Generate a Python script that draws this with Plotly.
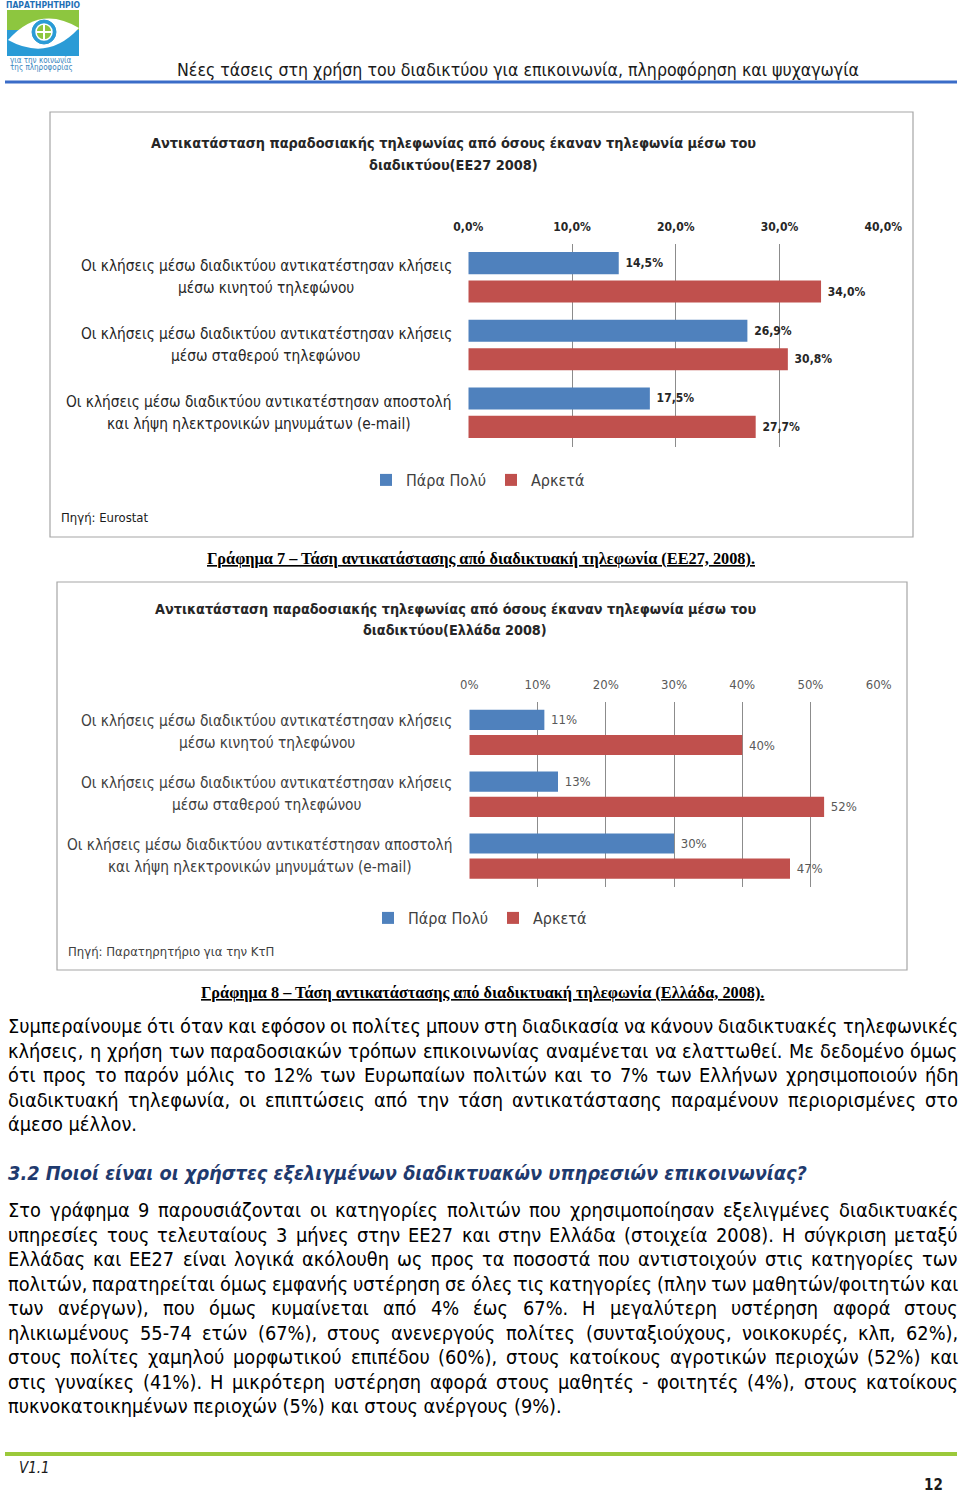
import glob
import plotly.graph_objects as go

W, H = 960, 1494

def px(x):
    return x / W

def py(y):
    return 1 - y / H

# ---------------- data ----------------
categories = [
    "Οι κλήσεις μέσω διαδικτύου αντικατέστησαν κλήσεις<br>μέσω κινητού τηλεφώνου",
    "Οι κλήσεις μέσω διαδικτύου αντικατέστησαν κλήσεις<br>μέσω σταθερού τηλεφώνου",
    "Οι κλήσεις μέσω διαδικτύου αντικατέστησαν αποστολή<br>και λήψη ηλεκτρονικών μηνυμάτων (e-mail)",
]
series_names = ["Πάρα Πολύ", "Αρκετά"]
eu_very = [14.5, 26.9, 17.5]
eu_quite = [34.0, 30.8, 27.7]
gr_very = [11, 13, 30]
gr_quite = [40, 52, 47]

title1 = ["Αντικατάσταση παραδοσιακής τηλεφωνίας από όσους έκαναν τηλεφωνία μέσω του",
          "διαδικτύου(ΕΕ27 2008)"]
title2 = ["Αντικατάσταση παραδοσιακής τηλεφωνίας από όσους έκαναν τηλεφωνία μέσω του",
          "διαδικτύου(Ελλάδα 2008)"]
source1 = "Πηγή: Eurostat"
source2 = "Πηγή: Παρατηρητήριο για την ΚτΠ"
caption1 = "Γράφημα 7 – Τάση αντικατάστασης από διαδικτυακή τηλεφωνία (ΕΕ27, 2008)."
caption2 = "Γράφημα 8 – Τάση αντικατάστασης από διαδικτυακή τηλεφωνία (Ελλάδα, 2008)."
header_text = "Νέες τάσεις στη χρήση του διαδικτύου για επικοινωνία, πληροφόρηση και ψυχαγωγία"

para1 = [
    "Συμπεραίνουμε ότι όταν και εφόσον οι πολίτες μπουν στη διαδικασία να κάνουν διαδικτυακές τηλεφωνικές",
    "κλήσεις, η χρήση των παραδοσιακών τρόπων επικοινωνίας αναμένεται να ελαττωθεί.  Με δεδομένο όμως",
    "ότι προς το παρόν μόλις το 12% των Ευρωπαίων πολιτών και το 7% των Ελλήνων χρησιμοποιούν ήδη",
    "διαδικτυακή τηλεφωνία, οι επιπτώσεις από την τάση αντικατάστασης παραμένουν περιορισμένες στο",
    "άμεσο μέλλον.",
]
heading = "3.2 Ποιοί είναι οι χρήστες εξελιγμένων διαδικτυακών υπηρεσιών επικοινωνίας?"
para2 = [
    "Στο γράφημα 9 παρουσιάζονται οι κατηγορίες πολιτών που χρησιμοποίησαν εξελιγμένες  διαδικτυακές",
    "υπηρεσίες τους τελευταίους 3 μήνες στην ΕΕ27 και στην Ελλάδα (στοιχεία 2008). Η σύγκριση μεταξύ",
    "Ελλάδας και ΕΕ27 είναι λογικά ακόλουθη ως προς τα ποσοστά που αντιστοιχούν στις κατηγορίες των",
    "πολιτών, παρατηρείται όμως εμφανής υστέρηση σε όλες τις κατηγορίες (πλην των μαθητών/φοιτητών και",
    "των ανέργων), που όμως κυμαίνεται από 4% έως 67%. Η μεγαλύτερη υστέρηση αφορά στους",
    "ηλικιωμένους 55-74 ετών (67%), στους ανενεργούς πολίτες (συνταξιούχους, νοικοκυρές, κλπ, 62%),",
    "στους πολίτες χαμηλού μορφωτικού επιπέδου (60%),  στους κατοίκους αγροτικών περιοχών (52%) και",
    "στις γυναίκες (41%). Η μικρότερη υστέρηση αφορά στους μαθητές - φοιτητές (4%), στους κατοίκους",
    "πυκνοκατοικημένων περιοχών (5%) και στους ανέργους (9%).",
]

# ---------------- styles ----------------
BLUE = "#4F81BD"
RED = "#C0504D"
GRID = "#8C8C8C"
FONT = "DejaVu Sans Condensed"
BODY_SIZE = 19.8
CAT_SIZE = 15.3

# font metrics (for justification / centring), with a rough fallback
_font_file = None
try:
    from PIL import ImageFont
    _c = glob.glob("/usr/share/fonts/**/DejaVuSansCondensed.ttf", recursive=True)
    _font_file = _c[0] if _c else None
except Exception:
    ImageFont = None

def make_measure(size):
    if _font_file is not None:
        try:
            f = ImageFont.truetype(_font_file, size)
            return lambda s: f.getlength(s)
        except Exception:
            pass
    return None

fig = go.Figure()

lab1 = dict(family=FONT, size=12, color="#262626", weight="bold")
lab2 = dict(family=FONT, size=13, color="#595959")

# chart 1 (EE27)
fig.add_trace(go.Bar(name=series_names[0], y=categories, x=eu_very, orientation="h",
                     xaxis="x", yaxis="y", marker=dict(color=BLUE, line=dict(width=0)),
                     width=0.326, offset=-0.373, legend="legend",
                     texttemplate="\u00a0%{x:.1f}%", textposition="outside", constraintext="none",
                     cliponaxis=False, textfont=lab1))
fig.add_trace(go.Bar(name=series_names[1], y=categories, x=eu_quite, orientation="h",
                     xaxis="x", yaxis="y", marker=dict(color=RED, line=dict(width=0)),
                     width=0.326, offset=0.047, legend="legend",
                     texttemplate="\u00a0%{x:.1f}%", textposition="outside", constraintext="none",
                     cliponaxis=False, textfont=lab1))
# chart 2 (Greece)
fig.add_trace(go.Bar(name=series_names[0], y=categories, x=gr_very, orientation="h",
                     xaxis="x2", yaxis="y2", marker=dict(color=BLUE, line=dict(width=0)),
                     width=0.327, offset=-0.367, legend="legend2",
                     texttemplate="\u00a0%{x:.0f}%", textposition="outside", constraintext="none",
                     cliponaxis=False, textfont=lab2))
fig.add_trace(go.Bar(name=series_names[1], y=categories, x=gr_quite, orientation="h",
                     xaxis="x2", yaxis="y2", marker=dict(color=RED, line=dict(width=0)),
                     width=0.327, offset=0.04, legend="legend2",
                     texttemplate="\u00a0%{x:.0f}%", textposition="outside", constraintext="none",
                     cliponaxis=False, textfont=lab2))

x1_dom = [px(468.3), px(883.3)]
y1_dom = [py(446.5), py(243.5)]
x2_dom = [px(469.3), px(878.7)]
y2_dom = [py(887), py(701.5)]

fig.update_layout(
    width=W, height=H, margin=dict(l=0, r=0, t=0, b=0, pad=0, autoexpand=False),
    paper_bgcolor="white", plot_bgcolor="rgba(0,0,0,0)",
    separators=",.", barmode="overlay", showlegend=True,
    font=dict(family=FONT, color="#000000"),
    xaxis=dict(domain=x1_dom, range=[0, 40], dtick=10, side="top", anchor="y",
               tickformat=".1f", ticksuffix="%", showgrid=True, gridcolor=GRID, gridwidth=1,
               zeroline=False, showline=False, ticks="", ticklabelstandoff=9, automargin=False,
               tickfont=dict(family=FONT, size=12, color="#262626", weight="bold")),
    yaxis=dict(domain=y1_dom, type="category", range=[2.5, -0.5], anchor="x", automargin=False,
               showticklabels=False, showgrid=False, zeroline=False, showline=False, ticks=""),
    xaxis2=dict(domain=x2_dom, range=[0, 60], dtick=10, side="top", anchor="y2",
                tickformat=".0f", ticksuffix="%", showgrid=True, gridcolor=GRID, gridwidth=1,
                zeroline=False, showline=False, ticks="", ticklabelstandoff=9, automargin=False,
                tickfont=dict(family=FONT, size=13, color="#595959")),
    yaxis2=dict(domain=y2_dom, type="category", range=[2.5, -0.5], anchor="x2", automargin=False,
                showticklabels=False, showgrid=False, zeroline=False, showline=False, ticks=""),
    legend=dict(orientation="h", x=px(478), xanchor="center", y=py(480), yanchor="middle",
                font=dict(family=FONT, size=16, color="#404040"), bgcolor="rgba(0,0,0,0)",
                itemclick=False, itemwidth=30),
    legend2=dict(orientation="h", x=px(480), xanchor="center", y=py(918), yanchor="middle",
                 font=dict(family=FONT, size=16, color="#404040"), bgcolor="rgba(0,0,0,0)",
                 itemclick=False, itemwidth=30),
)

annotations = []
shapes = []

def add_text(text, x, y, size, color="#000000", xanchor="left", family=FONT, **kw):
    annotations.append(dict(text=text, x=px(x), y=py(y), xref="paper", yref="paper",
                            xanchor=xanchor, yanchor="middle", showarrow=False,
                            font=dict(family=family, size=size, color=color), **kw))

# category labels: lines centred under each other, block right edge near the axis
cat_measure = make_measure(CAT_SIZE)
for xa, ya, col, rx in (("x", "y", "#262626", 452), ("x2", "y2", "#404040", 452.5)):
    dom = x1_dom if xa == "x" else x2_dom
    for c in categories:
        lines = c.split("<br>")
        if cat_measure is not None:
            maxw = max(cat_measure(ln) for ln in lines)
        else:
            maxw = max(len(ln) for ln in lines) * 7.5
        cx = rx - maxw / 2
        xdom = (px(cx) - dom[0]) / (dom[1] - dom[0])
        for i, ln in enumerate(lines):
            annotations.append(dict(text=ln, x=xdom, y=c, xref=f"{xa} domain", yref=ya,
                                    xanchor="center", yanchor="middle", align="center",
                                    yshift=11 - 22 * i, showarrow=False,
                                    font=dict(family=FONT, size=CAT_SIZE, color=col)))

# chart frames
shapes.append(dict(type="rect", xref="paper", yref="paper", x0=px(50), x1=px(913),
                   y0=py(537), y1=py(112), line=dict(color="#A6A6A6", width=1.2)))
shapes.append(dict(type="rect", xref="paper", yref="paper", x0=px(57), x1=px(907),
                   y0=py(970), y1=py(582), line=dict(color="#A6A6A6", width=1.2)))

# chart titles and sources
add_text("<b>" + title1[0] + "</b>", 453, 143, 14.4, "#262626", xanchor="center")
add_text("<b>" + title1[1] + "</b>", 453, 165, 14.4, "#262626", xanchor="center")
add_text("<b>" + title2[0] + "</b>", 455, 609, 14.3, "#262626", xanchor="center")
add_text("<b>" + title2[1] + "</b>", 455, 630, 14.3, "#262626", xanchor="center")
add_text(source1, 59, 517, 13, "#1a1a1a")
add_text(source2, 66, 951, 13, "#404040")

# captions
add_text("<b><u>" + caption1 + "</u></b>", 481, 558, 16.3, "#000000", xanchor="center",
         family="Liberation Serif")
add_text("<b><u>" + caption2 + "</u></b>", 482, 992, 16.3, "#000000", xanchor="center",
         family="Liberation Serif")

# header
add_text(header_text, 518, 70, 17.6, "#1a1a1a", xanchor="center")
shapes.append(dict(type="line", xref="paper", yref="paper", x0=px(5), x1=px(957),
                   y0=py(82), y1=py(82), line=dict(color="#3A6CC8", width=3)))

# logo
shapes.append(dict(type="rect", xref="paper", yref="paper", x0=px(7), x1=px(79),
                   y0=py(56), y1=py(10), fillcolor="#2A9BD6", line=dict(width=0)))
shapes.append(dict(type="rect", xref="paper", yref="paper", x0=px(7), x1=px(79),
                   y0=py(30), y1=py(10), fillcolor="#8DC63F", line=dict(width=0)))
eye = "M {},{} Q {},{} {},{} Q {},{} {},{} Z".format(
    px(8), py(40), px(40), py(4), px(79), py(28), px(48), py(62), px(8), py(40))
shapes.append(dict(type="path", xref="paper", yref="paper", path=eye,
                   fillcolor="white", line=dict(width=0)))
shapes.append(dict(type="circle", xref="paper", yref="paper", x0=px(32), x1=px(56),
                   y0=py(44), y1=py(20), fillcolor="#2A9BD6", line=dict(color="#2A9BD6", width=1)))
shapes.append(dict(type="circle", xref="paper", yref="paper", x0=px(36), x1=px(52),
                   y0=py(40), y1=py(24), fillcolor="#8DC63F", line=dict(color="white", width=1.5)))
shapes.append(dict(type="line", xref="paper", yref="paper", x0=px(44), x1=px(44),
                   y0=py(40), y1=py(24), line=dict(color="white", width=2)))
shapes.append(dict(type="line", xref="paper", yref="paper", x0=px(36), x1=px(52),
                   y0=py(32), y1=py(32), line=dict(color="white", width=2)))
add_text("<b>ΠΑΡΑΤΗΡΗΤΗΡΙΟ</b>", 43, 5, 8.5, "#1E6FB5", xanchor="center")
add_text("για την κοινωνία", 8, 60, 8, "#3A86C0")
add_text("της πληροφορίας", 8, 67, 8, "#3A86C0")

# footer
shapes.append(dict(type="line", xref="paper", yref="paper", x0=px(5), x1=px(957),
                   y0=py(1454), y1=py(1454), line=dict(color="#9BC93A", width=4)))
add_text("<i>V1.1</i>", 17, 1468, 15, "#1a1a1a")
add_text("<b>12</b>", 945, 1485, 15, "#1a1a1a", xanchor="right")

# ---------------- body text (justified when metrics are available) ----------------
measure = make_measure(BODY_SIZE)
LEFT, RIGHT = 7, 957

def body_line(text, y, justify):
    words = text.split()
    if justify and measure is not None and len(words) > 1:
        widths = [measure(w) for w in words]
        gap = (RIGHT - LEFT - sum(widths)) / (len(words) - 1)
        xpos = LEFT
        for w, wd in zip(words, widths):
            add_text(w, xpos - 1, y, BODY_SIZE, "#000000")
            xpos += wd + gap
    else:
        add_text(text, LEFT - 1, y, BODY_SIZE, "#000000")

p1_y = [1026, 1051, 1075, 1100, 1124]
for i, (t, y) in enumerate(zip(para1, p1_y)):
    body_line(t, y, i < len(para1) - 1)

add_text("<b><i>" + heading + "</i></b>", LEFT - 1, 1173, BODY_SIZE, "#1F3A6E")

p2_y = [1210, 1235, 1259, 1284, 1308, 1333, 1357, 1382, 1406]
for i, (t, y) in enumerate(zip(para2, p2_y)):
    body_line(t, y, i < len(para2) - 1)

fig.update_layout(annotations=annotations, shapes=shapes)
fig.write_html("out.html", config={"displayModeBar": False},
               post_script="document.body.style.margin='0';document.body.style.overflow='hidden';")
